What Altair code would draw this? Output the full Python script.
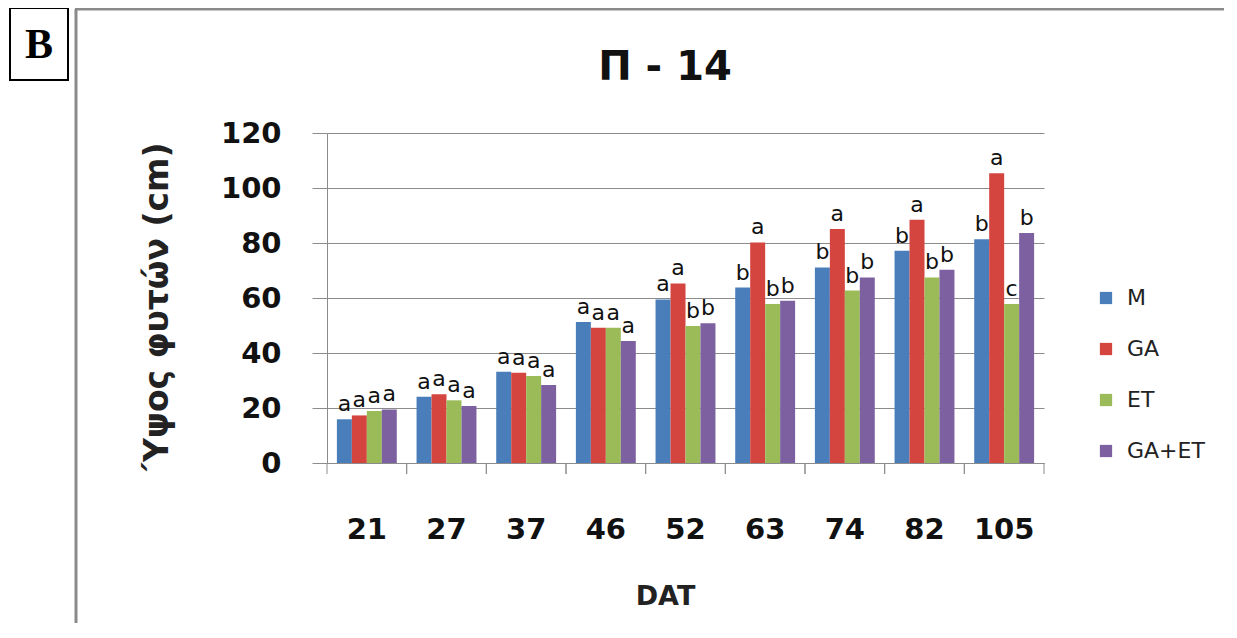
import altair as alt
import pandas as pd

days = ["21", "27", "37", "46", "52", "63", "74", "82", "105"]
series = ["M", "GA", "ET", "GA+ET"]
colors = ["#4A7EBB", "#D4453F", "#9BBB59", "#7D60A0"]

m_vals = [15.9, 24.1, 33.2, 51.3, 59.5, 63.8, 71.1, 77.2, 81.4]
ga_vals = [17.3, 25.0, 32.8, 49.2, 65.3, 80.2, 85.1, 88.5, 105.4]
et_vals = [18.9, 22.8, 31.6, 49.2, 49.8, 57.8, 62.7, 67.5, 57.8]
gaet_vals = [19.5, 20.7, 28.4, 44.4, 50.8, 59.0, 67.5, 70.3, 83.6]

m_letters = ["a", "a", "a", "a", "a", "b", "b", "b", "b"]
ga_letters = ["a", "a", "a", "a", "a", "a", "a", "a", "a"]
et_letters = ["a", "a", "a", "a", "b", "b", "b", "b", "c"]
gaet_letters = ["a", "a", "a", "a", "b", "b", "b", "b", "b"]

title_text = "Π - 14"
panel_letter = "B"

rows = []
for s, vals, lets in zip(series, [m_vals, ga_vals, et_vals, gaet_vals],
                         [m_letters, ga_letters, et_letters, gaet_letters]):
    for d, v, l in zip(days, vals, lets):
        rows.append({"day": d, "series": s, "value": v, "letter": l})
df = pd.DataFrame(rows)
days_df = pd.DataFrame({"day": days})

FONT = "DejaVu Sans"
W, H = 717, 330

xscale = alt.Scale(paddingInner=0, paddingOuter=0)
x_enc = alt.X("day:N", sort=days, scale=xscale,
              axis=alt.Axis(title="DAT", ticks=False, labelAngle=0,
                            labelFont=FONT, labelFontSize=29, labelFontWeight="bold",
                            labelColor="#111", labelBaseline="alphabetic", labelPadding=75,
                            domainColor="#8c8c8c", titleFont=FONT, titleFontSize=27,
                            titleFontWeight="bold", titleColor="#222",
                            titleX=338, titleY=141, titleBaseline="alphabetic"))
xoff = alt.XOffset("series:N", sort=series, scale=alt.Scale(paddingInner=0, paddingOuter=0.66))
y_enc = alt.Y("value:Q", scale=alt.Scale(domain=[0, 120]),
              axis=alt.Axis(title="Ύψος φυτών (cm)", values=[0, 20, 40, 60, 80, 100, 120],
                            tickSize=15, tickColor="#8c8c8c", domainColor="#8c8c8c",
                            gridColor="#8c8c8c", labelFont=FONT, labelFontSize=29,
                            labelFontWeight="bold", labelColor="#111", labelPadding=31,
                            titleFont=FONT, titleFontSize=33, titleFontWeight="bold",
                            titleColor="#222", titleAngle=-90, titleX=-160, titleY=173,
                            titleBaseline="alphabetic", titleAlign="center"))

bars = alt.Chart(df).mark_bar().encode(
    x=x_enc, xOffset=xoff, y=y_enc,
    color=alt.Color("series:N", sort=series,
                    scale=alt.Scale(domain=series, range=colors),
                    legend=alt.Legend(title=None, orient="none", legendX=768, legendY=154,
                                      symbolType="square", symbolSize=150,
                                      symbolStrokeWidth=0, labelFont=FONT,
                                      labelFontSize=22, labelColor="#222",
                                      rowPadding=29, labelOffset=10)),
)

labels = alt.Chart(df).mark_text(font=FONT, fontSize=22, baseline="bottom", dy=-3,
                                 color="#111").encode(
    x=alt.X("day:N", sort=days, scale=xscale),
    xOffset=xoff,
    y=alt.Y("value:Q"),
    text="letter:N",
)

ticks_l = alt.Chart(days_df).mark_rule(color="#8c8c8c").encode(
    x=alt.X("day:N", sort=days, scale=xscale, bandPosition=0),
    y=alt.value(H), y2=alt.value(H + 11))
ticks_r = alt.Chart(days_df).mark_rule(color="#8c8c8c").encode(
    x=alt.X("day:N", sort=days, scale=xscale, bandPosition=1),
    y=alt.value(H), y2=alt.value(H + 11))

deco = pd.DataFrame({"title": [title_text], "panel": [panel_letter]})
frame_v = alt.Chart(deco).mark_rule(color="#8a8a8a", strokeWidth=3).encode(
    x=alt.value(-251), y=alt.value(-124), y2=alt.value(H + 170))
frame_h = alt.Chart(deco).mark_rule(color="#8a8a8a", strokeWidth=3).encode(
    x=alt.value(-252), x2=alt.value(W + 190), y=alt.value(-124))
bbox = alt.Chart(deco).mark_rect(fill="white", stroke="black", strokeWidth=2).encode(
    x=alt.value(-317), x2=alt.value(-259), y=alt.value(-125), y2=alt.value(-53))
btext = alt.Chart(deco).mark_text(font="Liberation Serif", fontWeight="bold", fontSize=42,
                                  baseline="middle", align="center").encode(
    x=alt.value(-288), y=alt.value(-88), text="panel:N")
title = alt.Chart(deco).mark_text(font=FONT, fontWeight="bold", fontSize=40,
                                  baseline="alphabetic", align="center",
                                  color="#111").encode(
    x=alt.value(338), y=alt.value(-53), text="title:N")

chart = alt.layer(frame_v, frame_h, bbox, btext, title, bars, labels, ticks_l, ticks_r).properties(
    width=W, height=H,
    autosize=alt.AutoSizeParams(type="none"),
    padding={"left": 319, "top": 125, "right": 180, "bottom": 160},
    background="white",
).configure_view(stroke=None).configure_axis(gridWidth=1)

chart.save("out.html", embed_options={"renderer": "svg", "actions": False})
